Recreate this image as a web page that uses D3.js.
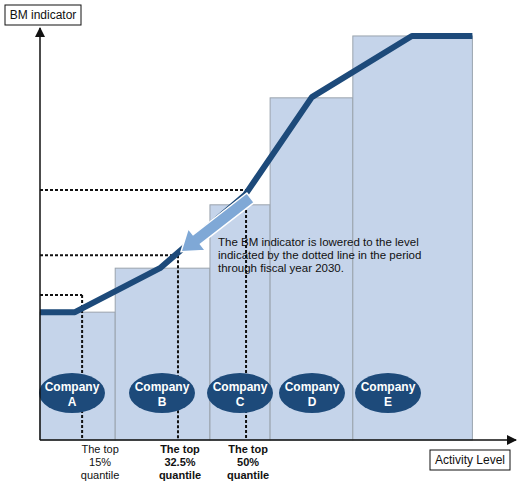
<!DOCTYPE html>
<html lang="en">
<head>
<meta charset="utf-8">
<script src="https://d3js.org/d3.v7.min.js"></script>
<style>
  body { margin: 0; background: white; }
  text { font-family: "Liberation Sans", Arial, sans-serif; }
</style>
</head>
<body>
<svg id="chart" width="517" height="484"></svg>
<script>
// company blocks: [start, end, height] in activity / BM units
const companies = ["A", "B", "C", "D", "E"];
const bounds = [0, 20, 45.2, 61.2, 83.2, 115];
const heights = [34.3, 46.1, 63.1, 91.8, 108.4];
const linePts = [[0, 34.3], [9.3, 34.3], [31.9, 46.1], [54.5, 65.7], [72.3, 92], [98.9, 108.4], [115, 108.4]];
const levels = [[11.2, 38.9], [36.7, 49.6], [54.8, 67.1]];
const quantiles = [["The top", "15%", "quantile"], ["The top", "32.5%", "quantile"], ["The top", "50%", "quantile"]];
const quantBold = [false, true, true];
const note = ["The BM indicator is lowered to the level", "indicated by the dotted line in the period", "through fiscal year 2030."];

const svg = d3.select("#chart");
const x = d3.scaleLinear().domain([0, 125]).range([40, 510]);
const y = d3.scaleLinear().domain([0, 110]).range([440, 30]);

// bars
svg.selectAll("rect.bar").data(heights).enter().append("rect")
  .attr("x", (d, i) => x(bounds[i])).attr("width", (d, i) => x(bounds[i + 1]) - x(bounds[i]))
  .attr("y", d => y(d)).attr("height", d => y(0) - y(d))
  .attr("fill", "#c5d4ea").attr("stroke", "#9aa3ad").attr("stroke-width", 1);

// dotted levels
const dot = svg.append("g").attr("stroke", "#111").attr("stroke-width", 2).attr("stroke-dasharray", "3,2");
levels.forEach(l => {
  dot.append("line").attr("x1", x(0)).attr("x2", x(l[0])).attr("y1", y(l[1])).attr("y2", y(l[1]));
  dot.append("line").attr("x1", x(l[0])).attr("x2", x(l[0])).attr("y1", y(l[1])).attr("y2", y(0));
});

// line
svg.append("path").datum(linePts)
  .attr("d", d3.line().x(d => x(d[0])).y(d => y(d[1])))
  .attr("fill", "none").attr("stroke", "#1d4a7a").attr("stroke-width", 6).attr("stroke-linejoin", "round");

// big arrow
const a0 = [x(56), y(65)], a1 = [x(37.5), y(50.5)];
const ang = Math.atan2(a1[1] - a0[1], a1[0] - a0[0]);
const len = Math.hypot(a1[0] - a0[0], a1[1] - a0[1]);
svg.append("path")
  .attr("d", `M0,-6 L${len - 20},-6 L${len - 20},-14 L${len},0 L${len - 20},14 L${len - 20},6 L0,6 Z`)
  .attr("transform", `translate(${a0[0]},${a0[1]}) rotate(${ang * 180 / Math.PI})`)
  .attr("fill", "#7fa8d6").attr("stroke", "white").attr("stroke-width", 1.5);

// note
svg.append("text").attr("x", 218).attr("y", 246).attr("font-size", 11.5).attr("fill", "#111")
  .selectAll("tspan").data(note).enter().append("tspan")
  .attr("x", 218).attr("dy", (d, i) => i ? 13 : 0).text(d => d);

// company ellipses
const cx = [72, 162, 240, 312, 388];
companies.forEach((c, i) => {
  const g = svg.append("g").attr("transform", `translate(${cx[i]},393)`);
  g.append("ellipse").attr("rx", 33).attr("ry", 20).attr("fill", "#1d4a7a");
  g.append("text").attr("text-anchor", "middle").attr("y", -2).attr("fill", "white")
    .attr("font-weight", "bold").attr("font-size", 12).text("Company");
  g.append("text").attr("text-anchor", "middle").attr("y", 13).attr("fill", "white")
    .attr("font-weight", "bold").attr("font-size", 12).text(c);
});

// axes
svg.append("defs").append("marker").attr("id", "ah").attr("viewBox", "0 0 10 10")
  .attr("refX", 9).attr("refY", 5).attr("markerWidth", 10).attr("markerHeight", 10)
  .attr("markerUnits", "userSpaceOnUse").attr("orient", "auto")
  .append("path").attr("d", "M0,0 L10,5 L0,10 Z").attr("fill", "#111");
svg.append("line").attr("x1", x(0)).attr("y1", y(0)).attr("x2", x(0)).attr("y2", 28)
  .attr("stroke", "#111").attr("stroke-width", 1.5).attr("marker-end", "url(#ah)");
svg.append("line").attr("x1", x(0)).attr("y1", y(0)).attr("x2", 516).attr("y2", y(0))
  .attr("stroke", "#111").attr("stroke-width", 1.5).attr("marker-end", "url(#ah)");

// quantile labels
levels.forEach((l, i) => {
  svg.append("text").attr("text-anchor", "middle").attr("y", 453).attr("font-size", 11)
    .attr("font-weight", quantBold[i] ? "bold" : "normal").attr("fill", "#111")
    .selectAll("tspan").data(quantiles[i]).enter().append("tspan")
    .attr("x", x(l[0]) + (i === 0 ? 18 : 2)).attr("dy", (d, j) => j ? 13 : 0).text(d => d);
});

// axis title boxes
function box(tx, bx, by, w) {
  svg.append("rect").attr("x", bx).attr("y", by).attr("width", w).attr("height", 20)
    .attr("fill", "white").attr("stroke", "#111").attr("stroke-width", 1);
  svg.append("text").attr("x", bx + w / 2).attr("y", by + 14).attr("text-anchor", "middle")
    .attr("font-size", 12).attr("fill", "#111").text(tx);
}
box("BM indicator", 5, 5, 76);
box("Activity Level", 430, 450, 80);
</script>
</body>
</html>
